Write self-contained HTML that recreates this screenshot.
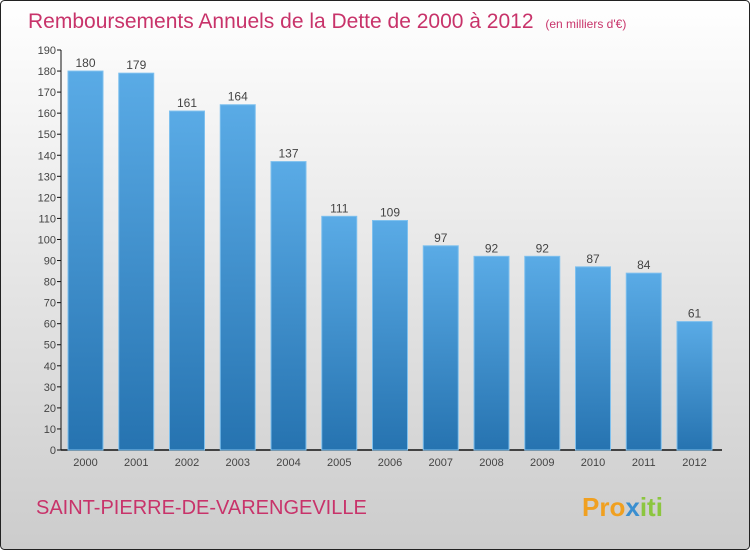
<!DOCTYPE html>
<html><head><meta charset="utf-8"><style>
body{margin:0}
svg{display:block;font-family:"Liberation Sans",sans-serif}
</style></head><body>
<svg width="750" height="550" xmlns="http://www.w3.org/2000/svg">
<defs>
<linearGradient id="bg" x1="0" y1="0" x2="0" y2="1"><stop offset="0" stop-color="#ffffff"/><stop offset="1" stop-color="#cccccc"/></linearGradient>
<linearGradient id="bar" x1="0" y1="0" x2="0" y2="1"><stop offset="0" stop-color="#5aabe6"/><stop offset="1" stop-color="#2673b0"/></linearGradient>
</defs>
<rect x="0.5" y="0.5" width="749" height="549" rx="4" fill="url(#bg)" stroke="#222"/>
<text x="28" y="28" font-size="21" fill="#c8336a">Remboursements Annuels de la Dette de 2000 à 2012 <tspan font-size="12" dx="6">(en milliers d'€)</tspan></text>
<g id="axes"></g>
<g id="bars"></g>
<text x="36" y="514" font-size="20" fill="#c8336a">SAINT-PIERRE-DE-VARENGEVILLE</text>
<text x="582" y="516" font-size="26" font-weight="bold" fill="#f0a020">Pro<tspan fill="#3a8fd0">x</tspan><tspan fill="#8cc63f">iti</tspan></text>
</svg>
<script>
const categories=["2000","2001","2002","2003","2004","2005","2006","2007","2008","2009","2010","2011","2012"];
const values=[180,179,161,164,137,111,109,97,92,92,87,84,61];
const yTicks=[0,10,20,30,40,50,60,70,80,90,100,110,120,130,140,150,160,170,180,190];
const NS="http://www.w3.org/2000/svg";
const y0=450,ppu=400/190,x0=85.5,step=50.75,bw=35;
const yS=v=>y0-v*ppu, xS=i=>x0+i*step;
function mk(t,a,p){const e=document.createElementNS(NS,t);for(const k in a)e.setAttribute(k,a[k]);p.appendChild(e);return e;}
const ax=document.getElementById('axes'),bg=document.getElementById('bars');
let l=mk('line',{x1:61,y1:y0,x2:61,y2:yS(190),stroke:'#111'},ax);


l=mk('line',{x1:61,y1:y0,x2:722,y2:y0,stroke:'#111','stroke-width':1.5},ax);


yTicks.forEach(v=>{
 const y=yS(v);
 const t=mk('line',{x1:57,y1:y,x2:61,y2:y,stroke:'#111'},ax);
 
 
 const tx=mk('text',{x:56,y:y+4,'font-size':11,'text-anchor':'end',fill:'#444'},ax);
 tx.textContent=v;
 
 
});
values.forEach((v,i)=>{
 const cx=xS(i);
 const r=mk('rect',{x:cx-bw/2,y:yS(v),width:bw,height:y0-yS(v),fill:'url(#bar)',stroke:'#7ec0ee','stroke-width':1},bg);
 
 
 const vl=mk('text',{x:cx,y:yS(v)-4,'font-size':12,'text-anchor':'middle',fill:'#444'},bg);
 vl.textContent=v;
 
 
 const xl=mk('text',{x:cx,y:466,'font-size':11,'text-anchor':'middle',fill:'#444'},bg);
 xl.textContent=categories[i];
 
 
});
</script>
</body></html>
